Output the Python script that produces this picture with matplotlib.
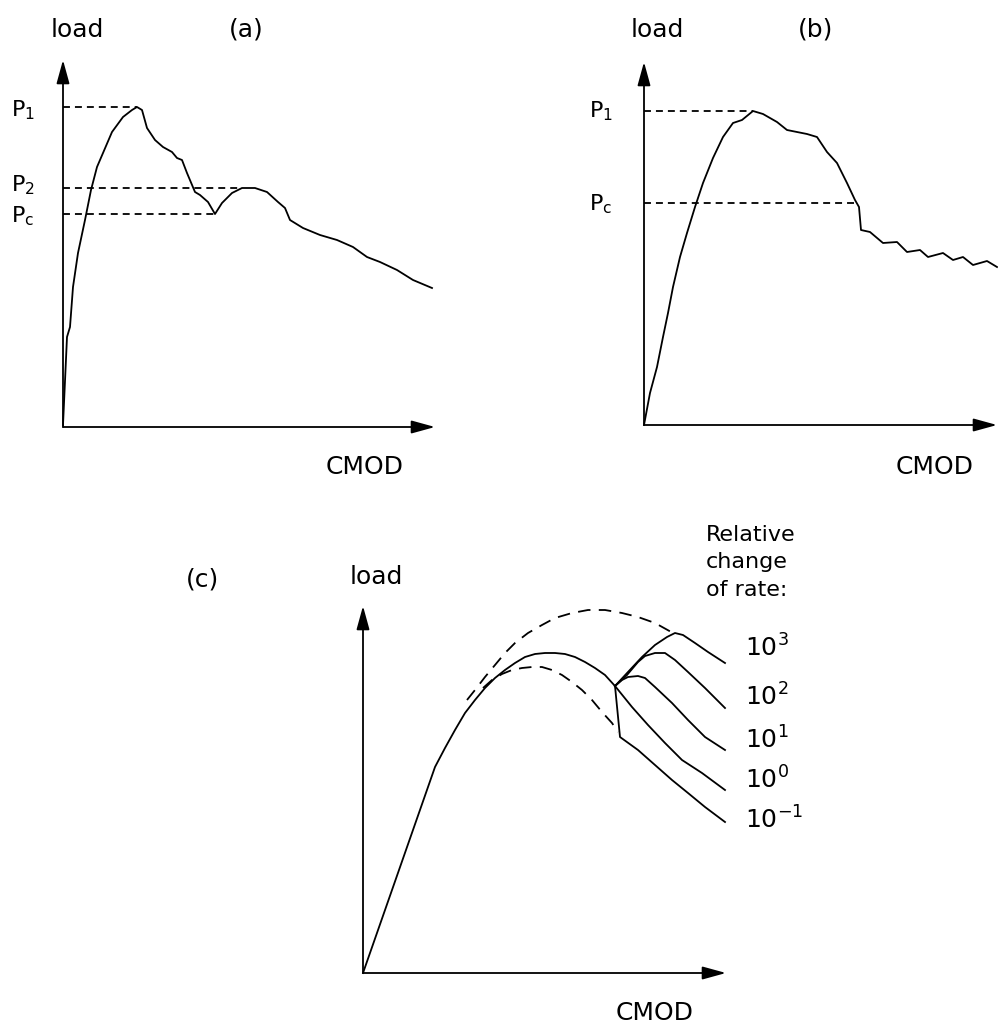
import matplotlib
matplotlib.use("Agg")
import matplotlib.pyplot as plt

plt.rcParams['font.family'] = ['DejaVu Sans']
plt.rcParams['lines.scale_dashes'] = False
plt.rcParams['mathtext.fontset'] = 'dejavusans'

# ---------------- data (arbitrary units) ----------------
# panel (a)
a_cmod = [0, 4, 7, 10, 15, 22, 28, 34, 40, 49, 60, 69, 74, 79, 84, 92, 100, 109,
          114, 119, 124, 132, 137, 145, 152, 159, 169, 179, 192, 204, 215, 222,
          227, 240, 257, 274, 290, 304, 317, 334, 350, 369]
a_load = [2, 90, 100, 140, 174, 207, 237, 260, 274, 295, 310, 317, 320, 317, 299,
          287, 280, 275, 269, 267, 254, 235, 232, 225, 213, 224, 234, 239, 239,
          235, 225, 219, 207, 199, 192, 187, 180, 170, 165, 157, 147, 139]
a_levels = [320, 239, 213]          # P1, P2, Pc
a_level_end = [74, 178, 152]
a_level_labels = ['P$_1$', 'P$_2$', 'P$_\\mathrm{c}$']

# panel (b)
b_cmod = [0, 6, 13, 19, 24, 29, 36, 43, 51, 59, 69, 79, 89, 98, 109, 119, 133,
          143, 153, 163, 173, 183, 193, 203, 211, 215, 217, 226, 239, 253, 263,
          276, 284, 299, 309, 319, 329, 343, 353]
b_load = [0, 32, 58, 88, 112, 138, 168, 192, 218, 242, 267, 288, 302, 305, 314,
          311, 303, 295, 293, 291, 288, 273, 262, 242, 225, 218, 195, 193, 182,
          183, 173, 175, 168, 172, 165, 168, 160, 164, 158]
b_levels = [314, 222]               # P1, Pc
b_level_end = [109, 214]
b_level_labels = ['P$_1$', 'P$_\\mathrm{c}$']

# panel (c)
c_main_cmod = [0, 72, 82, 92, 102, 112, 122, 132, 142, 152, 162, 172, 182, 192,
               202, 212, 222, 232, 242, 252]
c_main_load = [0, 206, 225, 243, 260, 273, 285, 295, 303, 310, 316, 319, 320, 320,
               319, 316, 311, 305, 298, 287]
c_upper_cmod = [104, 112, 122, 132, 142, 152, 165, 179, 192, 209, 225, 242, 259,
                275, 292, 310]
c_upper_load = [273, 283, 296, 308, 320, 330, 340, 348, 355, 360, 363, 363, 360,
                356, 350, 340]
c_lower_cmod = [120, 129, 139, 149, 159, 169, 179, 189, 199, 209, 219, 229, 239,
                249, 255]
c_lower_load = [285, 293, 299, 303, 305, 306, 306, 303, 298, 291, 283, 273, 261,
                250, 241]
rate_labels = ['10$^3$', '10$^2$', '10$^1$', '10$^0$', '10$^{-1}$']
rate_cmod = [
    [252, 265, 279, 292, 304, 312, 320, 332, 345, 362],
    [252, 264, 275, 282, 292, 302, 312, 325, 342, 362],
    [252, 259, 265, 275, 282, 292, 309, 325, 342, 362],
    [252, 269, 285, 302, 319, 339, 362],
    [252, 257, 275, 292, 309, 325, 342, 362],
]
rate_load = [
    [287, 301, 316, 328, 336, 340, 338, 330, 321, 310],
    [287, 298, 311, 317, 320, 320, 313, 301, 285, 265],
    [287, 293, 296, 297, 295, 286, 270, 253, 236, 223],
    [287, 266, 248, 230, 213, 200, 183],
    [287, 236, 223, 208, 193, 180, 166, 151],
]

# ---------------- layout ----------------
W, H = 998, 1029
fig = plt.figure(figsize=(W / 100, H / 100), dpi=100)
LW = 1.3
FS_BIG = 18
FS_P = 16


def fx(px):
    return px / W


def fy(py):
    return 1 - py / H


def panel(x0, y0, w, h):
    ax = fig.add_axes([x0 / W, 1 - y0 / H, w / W, h / H])
    ax.set_xlim(0, w)
    ax.set_ylim(0, h)
    ax.axis('off')
    for end in [(1, 0), (0, 1)]:
        ax.annotate('', xy=end, xytext=(0, 0), xycoords='axes fraction',
                    textcoords='axes fraction',
                    arrowprops=dict(arrowstyle='-|>,head_length=0.8,head_width=0.22',
                                    mutation_scale=18, lw=LW, color='k',
                                    shrinkA=0, shrinkB=0),
                    annotation_clip=False)
    return ax


def txt(px, py, s, size=FS_BIG, ha='center', va='center'):
    fig.text(fx(px), fy(py), s, fontsize=size, ha=ha, va=va, color='k')


# ---- panel (a)
ax_a = panel(63, 427, 372, 367)
ax_a.plot(a_cmod, a_load, color='k', lw=LW, clip_on=False)
for lev, xe in zip(a_levels, a_level_end):
    ax_a.plot([0, xe], [lev, lev], color='k', lw=LW, dashes=(5, 3.6))
for lab, by in zip(a_level_labels, [116, 191, 222]):
    txt(11, by, lab, size=FS_P, ha='left', va='baseline')
txt(77, 30, 'load')
txt(246, 30, '(a)')
txt(365, 467, 'CMOD')

# ---- panel (b)
ax_b = panel(644, 425, 353, 363)
ax_b.plot(b_cmod, b_load, color='k', lw=LW, clip_on=False)
for lev, xe in zip(b_levels, b_level_end):
    ax_b.plot([0, xe], [lev, lev], color='k', lw=LW, dashes=(5, 3.6))
for lab, by in zip(b_level_labels, [117, 210]):
    txt(589, by, lab, size=FS_P, ha='left', va='baseline')
txt(657, 30, 'load')
txt(816, 30, '(b)')
txt(935, 467, 'CMOD')

# ---- panel (c)
ax_c = panel(363, 973, 363, 367)
ax_c.plot(c_main_cmod, c_main_load, color='k', lw=LW, clip_on=False)
ax_c.plot(c_upper_cmod, c_upper_load, color='k', lw=LW, dashes=(9, 6), clip_on=False)
ax_c.plot(c_lower_cmod, c_lower_load, color='k', lw=LW, dashes=(9, 6), clip_on=False)
for xs, ys in zip(rate_cmod, rate_load):
    ax_c.plot(xs, ys, color='k', lw=LW, clip_on=False)
for lab, cy in zip(rate_labels, [648, 697, 740, 780, 820]):
    txt(745, cy, lab, ha='left')
txt(203, 580, '(c)')
txt(376, 577, 'load')
txt(655, 1013, 'CMOD')
for line, cy in zip(['Relative', 'change', 'of rate:'], [535, 562, 590]):
    txt(706, cy, line, size=16, ha='left')

fig.savefig('out.png', dpi=100, facecolor='white')
